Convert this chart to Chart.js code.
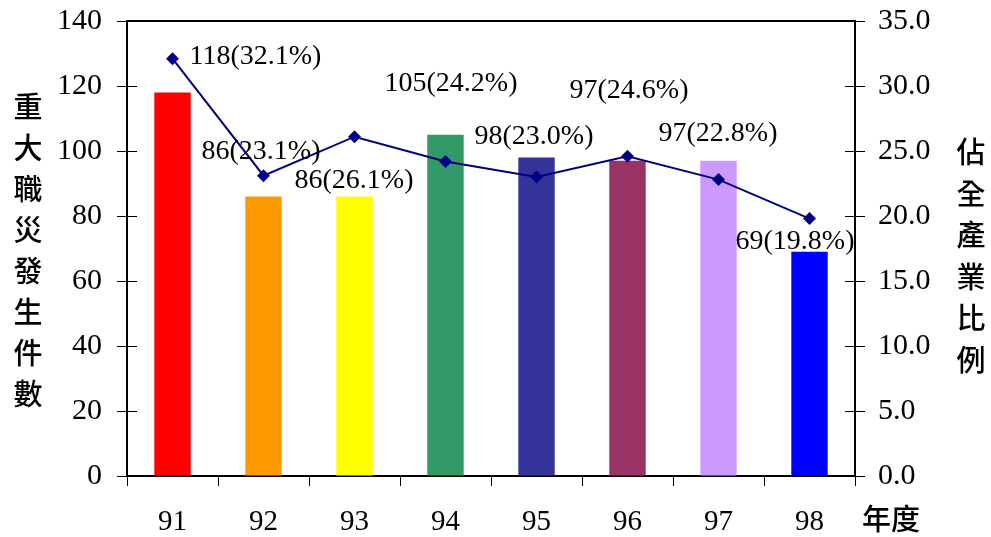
<!DOCTYPE html>
<html>
<head>
<meta charset="utf-8">
<script src="https://cdn.jsdelivr.net/npm/chart.js@4.4.1/dist/chart.umd.min.js"></script>
<style>
  html, body { margin: 0; padding: 0; background: #fff; }
  #wrap { width: 991px; height: 537px; position: relative; }
</style>
</head>
<body>
<div id="wrap"><canvas id="c" width="991" height="537"></canvas></div>
<script>
// 年度 (ROC year)
const years = ['91', '92', '93', '94', '95', '96', '97', '98'];
// 重大職災發生件數
const cases = [118, 86, 86, 105, 98, 97, 97, 69];
// 佔全產業比例 (%)
const shares = [32.1, 23.1, 26.1, 24.2, 23.0, 24.6, 22.8, 19.8];
const barColors = ['#FF0000', '#FF9900', '#FFFF00', '#339966', '#333399', '#993366', '#CC99FF', '#0000FF'];

// label placement relative to each line point (left edge, vertical middle)
const labelOffsets = [[17, -2], [-62, -24], [-60, 44], [-61, -78], [-62, -40], [-58, -66], [-60, -46], [-74, 23]];

const leftTitle = '重大職災發生件數';
const rightTitle = '佔全產業比例';
const xTitle = '年度';

const SERIF = '"Liberation Serif", "Times New Roman", serif';
const CJK = '"Noto Sans CJK TC", "Noto Sans CJK SC", sans-serif';

const decorations = {
  id: 'decorations',
  afterDatasetsDraw(chart) {
    const ctx = chart.ctx;
    const a = chart.chartArea;
    const y = chart.scales.y, y1 = chart.scales.y1;
    ctx.save();
    // frame top line
    ctx.strokeStyle = '#000';
    ctx.lineWidth = 2;
    ctx.beginPath();
    ctx.moveTo(a.left, a.top);
    ctx.lineTo(a.right, a.top);
    ctx.stroke();
    // inner halves of tick marks
    ctx.lineWidth = 1;
    y.ticks.forEach((t, i) => {
      const p = Math.round(y.getPixelForTick(i)) + 0.5;
      ctx.beginPath(); ctx.moveTo(a.left, p); ctx.lineTo(a.left + 10, p); ctx.stroke();
    });
    y1.ticks.forEach((t, i) => {
      const p = Math.round(y1.getPixelForTick(i)) + 0.5;
      ctx.beginPath(); ctx.moveTo(a.right - 10, p); ctx.lineTo(a.right, p); ctx.stroke();
    });
    // data labels
    const meta = chart.getDatasetMeta(1);
    ctx.fillStyle = '#000';
    ctx.font = '28px ' + SERIF;
    ctx.textAlign = 'left';
    ctx.textBaseline = 'middle';
    meta.data.forEach((pt, i) => {
      const txt = cases[i] + '(' + shares[i].toFixed(1) + '%)';
      ctx.fillText(txt, pt.x + labelOffsets[i][0], pt.y + labelOffsets[i][1]);
    });
    // axis titles, stacked vertically
    ctx.font = '500 29px ' + CJK;
    ctx.textAlign = 'center';
    [...leftTitle].forEach((ch, i) => ctx.fillText(ch, 28, 107 + i * 41));
    [...rightTitle].forEach((ch, i) => ctx.fillText(ch, 971, 152 + i * 41.5));
    ctx.fillText(xTitle, 891, 519);
    ctx.restore();
  }
};

// keep the plot frame fixed regardless of tick label overhang
function fixVertical(width) {
  return s => { s.width = width; s.paddingTop = 0; s.paddingBottom = 0; };
}

new Chart(document.getElementById('c'), {
  data: {
    labels: years,
    datasets: [
      {
        type: 'bar',
        data: cases,
        backgroundColor: barColors,
        borderWidth: 0,
        barPercentage: 0.4,
        categoryPercentage: 1,
        yAxisID: 'y',
        order: 2
      },
      {
        type: 'line',
        data: shares,
        borderColor: '#000080',
        backgroundColor: '#000080',
        borderWidth: 2,
        pointStyle: 'rectRot',
        pointRadius: 6.5,
        pointBorderWidth: 0,
        pointBackgroundColor: '#000080',
        tension: 0,
        yAxisID: 'y1',
        order: 1
      }
    ]
  },
  options: {
    responsive: false,
    animation: false,
    events: [],
    layout: { padding: { top: 21, left: 0, right: 0, bottom: 0 } },
    plugins: { legend: { display: false }, tooltip: { enabled: false } },
    scales: {
      x: {
        offset: true,
        grid: { display: true, offset: true, drawOnChartArea: false, drawTicks: true, tickLength: 10, color: '#000', lineWidth: 1 },
        border: { display: true, color: '#000', width: 2 },
        ticks: { color: '#000', font: { family: SERIF, size: 29 }, padding: 19, maxRotation: 0 },
        afterFit(s) { s.height = 61; s.paddingLeft = 0; s.paddingRight = 0; }
      },
      y: {
        position: 'left',
        min: 0, max: 140,
        grid: { display: true, drawOnChartArea: false, drawTicks: true, tickLength: 10, color: '#000', lineWidth: 1 },
        border: { display: true, color: '#000', width: 2 },
        ticks: { stepSize: 20, color: '#000', font: { family: SERIF, size: 30 }, padding: 15 },
        afterFit: fixVertical(127)
      },
      y1: {
        position: 'right',
        min: 0, max: 35,
        grid: { display: true, drawOnChartArea: false, drawTicks: true, tickLength: 10, color: '#000', lineWidth: 1 },
        border: { display: true, color: '#000', width: 2 },
        ticks: { stepSize: 5, color: '#000', font: { family: SERIF, size: 30 }, padding: 13,
                 callback: v => Number(v).toFixed(1) },
        afterFit: fixVertical(136)
      }
    }
  },
  plugins: [decorations]
});
</script>
</body>
</html>
